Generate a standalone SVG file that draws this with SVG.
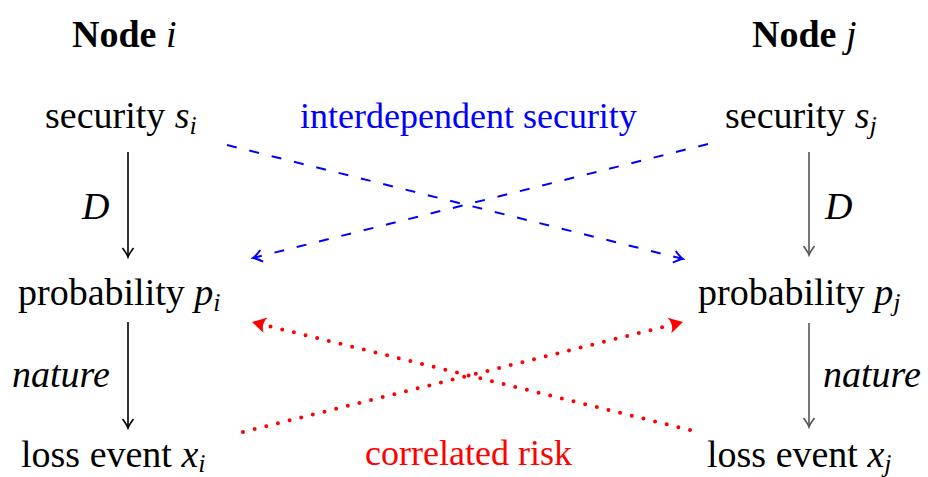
<svg xmlns="http://www.w3.org/2000/svg" width="928" height="477" viewBox="0 0 928 477">
<style>
text{font-family:"Liberation Serif","Times New Roman",serif;font-size:38px;fill:#000}
.b{font-weight:bold}
.it{font-style:italic}
.sub{font-size:26px;font-style:italic}
.blue{fill:#0000ff;font-size:36px}
.red{fill:#ff0000;font-size:36px}
.vk{fill:none;stroke:#000;stroke-width:1.6}
.vg{fill:none;stroke:#555;stroke-width:1.6}
.dash{fill:none;stroke:#0000ff;stroke-width:2;stroke-dasharray:10 13}
.dot{fill:none;stroke:#ff0000;stroke-width:4;stroke-linecap:round;stroke-dasharray:0 12}
</style>
<defs>
<marker id="ak" viewBox="-10 -7 12 14" refX="0" refY="0" markerWidth="12" markerHeight="14" markerUnits="userSpaceOnUse" orient="auto">
<path d="M-9,-5.5 Q-3,-1 0,0 Q-3,1 -9,5.5" fill="none" stroke="#000" stroke-width="1.6"/>
</marker>
<marker id="ag" viewBox="-10 -7 12 14" refX="0" refY="0" markerWidth="12" markerHeight="14" markerUnits="userSpaceOnUse" orient="auto">
<path d="M-9,-5.5 Q-3,-1 0,0 Q-3,1 -9,5.5" fill="none" stroke="#555" stroke-width="1.6"/>
</marker>
<marker id="ab" viewBox="-12 -8 14 16" refX="0" refY="0" markerWidth="14" markerHeight="16" markerUnits="userSpaceOnUse" orient="auto">
<path d="M-9,-6 Q-3,-1 0,0 Q-3,1 -9,6" fill="none" stroke="#0000ff" stroke-width="2"/>
</marker>
<marker id="ar" viewBox="-16 -10 18 20" refX="0" refY="0" markerWidth="18" markerHeight="20" markerUnits="userSpaceOnUse" orient="auto">
<path d="M0,0 L-14,-8 Q-9,0 -14,8 Z" fill="#ff0000"/>
</marker>
</defs>

<g id="node-i-title"><text x="72" y="47"><tspan class="b">Node</tspan> <tspan class="it">i</tspan></text></g>
<g id="node-j-title"><text x="752" y="47"><tspan class="b">Node</tspan> <tspan class="it">j</tspan></text></g>

<g id="security-i"><text x="45" y="128">security <tspan class="it">s</tspan><tspan class="sub" dy="6">i</tspan></text></g>
<g id="security-j"><text x="725" y="128">security <tspan class="it">s</tspan><tspan class="sub" dy="6">j</tspan></text></g>

<g id="probability-i"><text x="18" y="305">probability <tspan class="it">p</tspan><tspan class="sub" dy="6">i</tspan></text></g>
<g id="probability-j"><text x="698" y="305">probability <tspan class="it">p</tspan><tspan class="sub" dy="6">j</tspan></text></g>

<g id="loss-i"><text x="21" y="467">loss event <tspan class="it">x</tspan><tspan class="sub" dy="5">i</tspan></text></g>
<g id="loss-j"><text x="707" y="467">loss event <tspan class="it">x</tspan><tspan class="sub" dy="5">j</tspan></text></g>

<g id="labels">
<text class="it" x="82" y="219">D</text>
<text class="it" x="825" y="219">D</text>
<text class="it" x="12" y="387">nature</text>
<text class="it" x="823" y="387">nature</text>
<text class="blue" x="300" y="128">interdependent security</text>
<text class="red" x="365" y="465">correlated risk</text>
</g>

<g id="connectors">
<line class="vk" x1="128" y1="152" x2="128" y2="257" marker-end="url(#ak)"/>
<line class="vk" x1="128" y1="322" x2="128" y2="428" marker-end="url(#ak)"/>
<line class="vg" x1="809" y1="152" x2="809" y2="255" marker-end="url(#ag)"/>
<line class="vg" x1="809" y1="323" x2="809" y2="427" marker-end="url(#ag)"/>
<line class="dash" x1="227" y1="145" x2="683" y2="259" marker-end="url(#ab)"/>
<line class="dash" x1="708" y1="144" x2="253" y2="258" marker-end="url(#ab)"/>
<line class="dot" x1="243" y1="432" x2="683" y2="322" marker-end="url(#ar)"/>
<line class="dot" x1="690" y1="430" x2="252" y2="322" marker-end="url(#ar)"/>
</g>
</svg>
